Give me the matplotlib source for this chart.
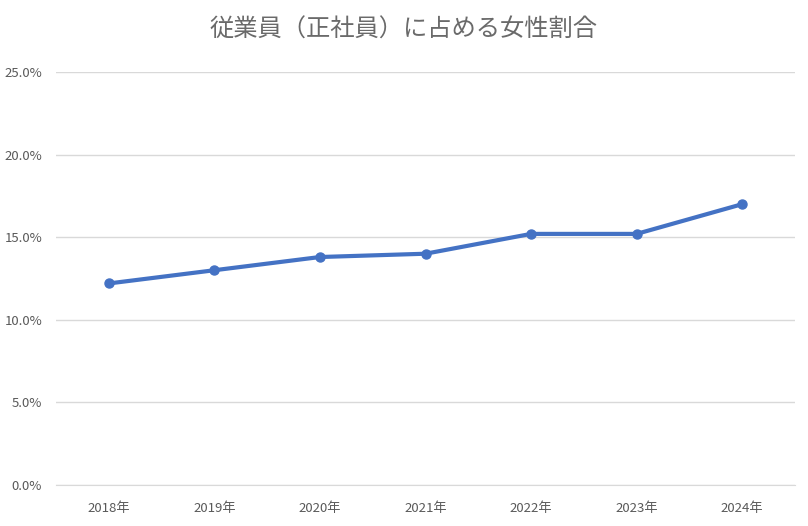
import matplotlib
matplotlib.use("Agg")
import matplotlib.pyplot as plt
from matplotlib.ticker import FuncFormatter

plt.rcParams['font.family'] = ['Noto Sans CJK JP', 'DejaVu Sans']

title = "従業員（正社員）に占める女性割合"
years = ["2018年", "2019年", "2020年", "2021年", "2022年", "2023年", "2024年"]
values = [12.2, 13.0, 13.8, 14.0, 15.2, 15.2, 17.0]
yticks = [0, 5, 10, 15, 20, 25]

fig = plt.figure(figsize=(8.08, 5.26), dpi=100)
ax = fig.add_axes([56/808, 41/526, 739/808, 413/526])

x = list(range(len(years)))
ax.plot(x, values, color="#4472C4", linewidth=3, marker="o", markersize=6.5, zorder=3)

ax.set_xlim(-0.5, len(years) - 0.5)
ax.set_ylim(0, 25)
ax.set_yticks(yticks)
ax.yaxis.set_major_formatter(FuncFormatter(lambda v, p: f"{v:.1f}%"))
ax.set_xticks(x)
ax.set_xticklabels(years)
ax.grid(axis="y", color="#D9D9D9", linewidth=1)
ax.set_axisbelow(True)
for s in ["top", "right", "left"]:
    ax.spines[s].set_visible(False)
ax.spines["bottom"].set_color("#D9D9D9")
ax.tick_params(axis="both", length=0, colors="#595959", labelsize=9.5)
ax.tick_params(axis="x", pad=12)
ax.tick_params(axis="y", pad=10)

fig.text(0.5, 1 - 30/526, title, ha="center", va="center", fontsize=17.5, color="#6a6a6a")

fig.savefig("out.png", dpi=100, facecolor="white")
